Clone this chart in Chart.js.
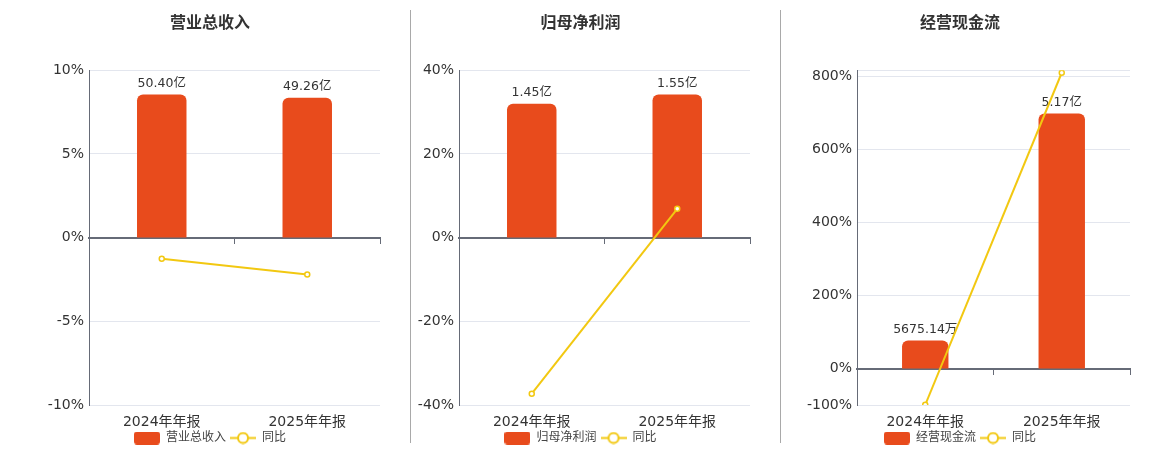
<!DOCTYPE html>
<html>
<head>
<meta charset="utf-8">
<script src="https://cdn.jsdelivr.net/npm/chart.js@4.4.1/dist/chart.umd.min.js"></script>
<style>
  html, body { margin: 0; padding: 0; background: #fff; }
  #wrap { position: relative; width: 1160px; height: 450px; overflow: hidden; }
  .panel { position: absolute; top: 0; height: 454px; }
  .divider { position: absolute; top: 10px; height: 433px; width: 1px; background: #a9a9a9; }
</style>
</head>
<body>
<div id="wrap">
  <div class="panel" style="left:0;width:410px"><canvas id="c1"></canvas></div>
  <div class="divider" style="left:410px"></div>
  <div class="panel" style="left:411px;width:369px"><canvas id="c2"></canvas></div>
  <div class="divider" style="left:780px"></div>
  <div class="panel" style="left:781px;width:379px"><canvas id="c3"></canvas></div>
</div>
<script>
const periods = ["2024年年报", "2025年年报"];

// 单位：亿元
const revenue = [50.40, 49.26];
const revenueYoy = [-1.27, -2.21];

const netProfit = [1.45, 1.55];
const netProfitYoy = [-37.3, 6.87];

const cashFlow = [0.567514, 5.17];
const cashFlowYoy = [-99.4, 811];

const BAR_COLOR = "#E84B1C";
const LINE_COLOR = "#F2C811";
const FONT = '"DejaVu Sans", "Noto Sans CJK SC", sans-serif';

function fmtAmount(v) {
  return v >= 1 ? v.toFixed(2) + "亿" : (v * 10000).toFixed(2) + "万";
}

function barIcon() {
  const c = document.createElement("canvas");
  c.width = 26; c.height = 13;
  const ctx = c.getContext("2d");
  ctx.fillStyle = BAR_COLOR;
  ctx.beginPath();
  ctx.roundRect(0, 0, 26, 13, 3);
  ctx.fill();
  return c;
}

function lineIcon() {
  const c = document.createElement("canvas");
  c.width = 26; c.height = 13;
  const ctx = c.getContext("2d");
  ctx.strokeStyle = LINE_COLOR;
  ctx.lineWidth = 2;
  ctx.beginPath();
  ctx.moveTo(0, 6.5); ctx.lineTo(26, 6.5);
  ctx.stroke();
  ctx.fillStyle = "#fff";
  ctx.beginPath();
  ctx.arc(13, 6.5, 5, 0, Math.PI * 2);
  ctx.fill();
  ctx.stroke();
  return c;
}

const barLabels = {
  id: "barLabels",
  afterDatasetDraw(chart, args) {
    if (args.meta.type !== "bar") return;
    const ctx = chart.ctx;
    const values = chart.data.datasets[args.index].data;
    ctx.save();
    ctx.font = "12.5px " + FONT;
    ctx.fillStyle = "#333";
    ctx.textAlign = "center";
    ctx.textBaseline = "bottom";
    args.meta.data.forEach((el, i) => {
      ctx.fillText(fmtAmount(values[i]), el.x, el.y - 5);
    });
    ctx.restore();
  }
};

function renderPanel(id, title, barName, bars, yoy, yAxis, pad, yWidth) {
  const barMax = Math.max(...bars) * 1.17;
  const barMin = -barMax * (-yAxis.min) / yAxis.max;

  new Chart(document.getElementById(id), {
    type: "bar",
    data: {
      labels: periods,
      datasets: [
        {
          type: "bar",
          label: barName,
          data: bars,
          yAxisID: "yb",
          backgroundColor: BAR_COLOR,
          borderRadius: 6,
          barPercentage: 0.34,
          categoryPercentage: 1,
          order: 2
        },
        {
          type: "line",
          label: "同比",
          data: yoy,
          yAxisID: "y",
          borderColor: LINE_COLOR,
          borderWidth: 2,
          pointRadius: 2.5,
          pointBorderWidth: 1.5,
          pointBackgroundColor: "#fff",
          pointBorderColor: LINE_COLOR,
          order: 1
        }
      ]
    },
    options: {
      responsive: true,
      maintainAspectRatio: false,
      animation: false,
      layout: { padding: { left: pad.left, right: pad.right, top: 0, bottom: 0 } },
      plugins: {
        title: {
          display: true,
          text: title,
          color: "#333",
          font: { family: FONT, size: 16, weight: "bold" },
          padding: { top: 14, bottom: 37 }
        },
        legend: {
          position: "bottom",
          labels: {
            usePointStyle: true,
            pointStyleWidth: 26,
            boxHeight: 13,
            padding: 4,
            color: "#444",
            font: { family: FONT, size: 12 },
            generateLabels: chart => {
              const items = Chart.defaults.plugins.legend.labels.generateLabels(chart);
              items.sort((a, b) => a.datasetIndex - b.datasetIndex);
              items.forEach(it => {
                it.pointStyle = it.datasetIndex === 0 ? barIcon() : lineIcon();
              });
              return items;
            }
          }
        },
        tooltip: { enabled: false }
      },
      scales: {
        x: {
          grid: { display: false },
          border: { display: false },
          ticks: { color: "#333", padding: 1, font: { family: FONT, size: 14 } },
          afterFit: s => { s.height = 23; }
        },
        x2: {
          type: "category",
          labels: periods,
          position: { y: 0 },
          offset: true,
          grid: { offset: true, drawOnChartArea: false, drawTicks: true, tickLength: 5, color: "#666b77", lineWidth: 1 },
          border: { display: true, color: "#666b77", width: 2 },
          ticks: { display: false }
        },
        y: {
          min: yAxis.min,
          max: yAxis.max,
          ticks: {
            stepSize: yAxis.step,
            color: "#333",
            padding: 5,
            font: { family: FONT, size: 14 },
            callback: v => (yAxis.hide && yAxis.hide.includes(v)) ? "" : v + "%"
          },
          afterBuildTicks: yAxis.ticks ? (s => { s.ticks = yAxis.ticks.map(v => ({ value: v })); }) : undefined,
          grid: { color: "#e3e6ee", drawTicks: false },
          border: { display: true, color: "#666b77", width: 1 },
          afterFit: s => { s.width = yWidth; }
        },
        yb: {
          display: false,
          min: barMin,
          max: barMax
        }
      }
    },
    plugins: [barLabels]
  });
}

renderPanel("c1", "营业总收入", "营业总收入", revenue, revenueYoy,
  { min: -10, max: 10, step: 5 }, { left: 40, right: 30 }, 49);

renderPanel("c2", "归母净利润", "归母净利润", netProfit, netProfitYoy,
  { min: -40, max: 40, step: 20 }, { left: 0, right: 30 }, 48);

renderPanel("c3", "经营现金流", "经营现金流", cashFlow, cashFlowYoy,
  { min: -100, max: 818, ticks: [-100, 0, 200, 400, 600, 800, 818], hide: [818] }, { left: 9, right: 30 }, 67);
</script>
</body>
</html>
